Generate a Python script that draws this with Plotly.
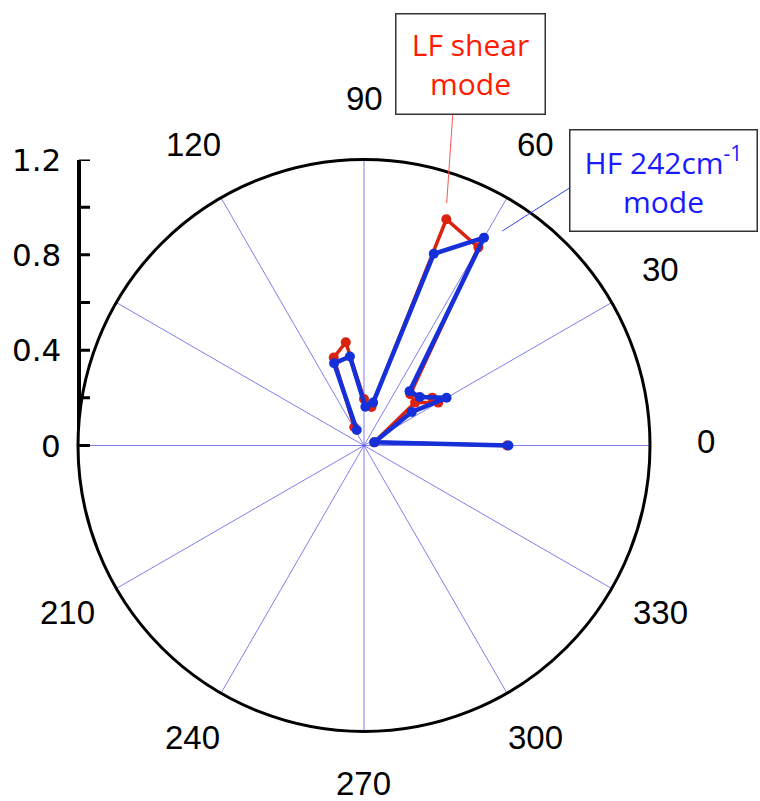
import math
import plotly.graph_objects as go

# ---- data ----
theta_lf = [0, 17, 40, 30, 35, 48, 60, 70, 79, 90, 100, 109, 118]
r_lf = [0.60, 0.045, 0.28, 0.36, 0.35, 0.29, 0.96, 1.01, 0.165, 0.195, 0.44, 0.39, 0.087]

theta_hf = [0, 17, 35, 30, 41, 50, 60, 70, 78, 88, 99, 110, 115]
r_hf = [0.606, 0.045, 0.245, 0.40, 0.31, 0.297, 1.007, 0.856, 0.184, 0.163, 0.378, 0.367, 0.072]

grid_angles = [0, 30, 60, 90, 120, 150, 180, 210, 240, 270, 300, 330]
label_angles = [0, 30, 60, 90, 120, 210, 240, 270, 300, 330]
label_texts = ["0", "30", "60", "90", "120", "210", "240", "270", "300", "330"]
radial_label_vals = [0, 0.4, 0.8, 1.2]
radial_label_texts = ["0", "0.4", "0.8", "1.2"]
radial_tick_vals = [0, 0.2, 0.4, 0.6, 0.8, 1.0, 1.2]

RED = "#d9230f"
BLUE = "#1530d8"

W, H = 760, 801
cx, cy, R = 364, 445.5, 286
AXIS_X = 79          # pixel x of the vertical radial scale
TICK_LEN = 11
LABEL_DIST = 342
LABEL_DY = -4.5      # visual baseline correction for the digit labels

fig = go.Figure()
fig.add_trace(go.Scatterpolar(
    r=r_lf, theta=theta_lf, mode="lines+markers",
    line=dict(color=RED, width=3.5), marker=dict(color=RED, size=10),
    name="LF shear mode"))
fig.add_trace(go.Scatterpolar(
    r=r_hf, theta=theta_hf, mode="lines+markers",
    line=dict(color=BLUE, width=4.5), marker=dict(color=BLUE, size=10),
    name="HF 242cm-1 mode"))
# invisible trace so the cartesian radial scale is drawn
fig.add_trace(go.Scatter(x=[0.5], y=[0.5], mode="markers", marker=dict(opacity=0),
                         hoverinfo="skip", showlegend=False))

bottom_ext = 0.055
ydom = [(H - cy - bottom_ext * R / 1.2) / H, (H - cy + R) / H]
fig.update_layout(
    width=W, height=H, margin=dict(l=0, r=0, t=0, b=0, autoexpand=False),
    paper_bgcolor="white", plot_bgcolor="rgba(0,0,0,0)", showlegend=False,
    polar=dict(
        domain=dict(x=[(cx - R) / W, (cx + R) / W],
                    y=[(H - cy - R) / H, (H - cy + R) / H]),
        bgcolor="white",
        radialaxis=dict(range=[0, 1.2], showgrid=False, showline=False,
                        showticklabels=False, ticks=""),
        angularaxis=dict(rotation=0, direction="counterclockwise",
                         tickmode="array", tickvals=grid_angles,
                         showticklabels=False, ticks="",
                         showline=True, linecolor="black", linewidth=3,
                         showgrid=True, gridcolor="rgba(95,95,230,0.8)", gridwidth=1),
    ),
    xaxis=dict(domain=[0.3, 0.4], range=[0, 1], visible=False),
    yaxis=dict(domain=ydom,
               range=[-bottom_ext, 1.2], anchor="free", position=AXIS_X / W, side="left",
               showline=True, linecolor="black", linewidth=4,
               ticks="", showticklabels=False,
               showgrid=False, zeroline=False),
)

# inward tick marks of the radial scale, placed on the y axis values
for v in radial_tick_vals:
    fig.add_shape(type="line", xref="paper", yref="y",
                  x0=AXIS_X / W, x1=(AXIS_X + TICK_LEN) / W, y0=v, y1=v,
                  line=dict(color="black", width=3))

# radial scale labels, placed on the y axis values
for v, txt in zip(radial_label_vals, radial_label_texts):
    fig.add_annotation(xref="paper", yref="y", x=(AXIS_X - 16) / W, y=v,
                       text=txt, showarrow=False, xanchor="right", yanchor="middle",
                       font=dict(family="DejaVu Sans", size=31, color="black"))

# angular tick labels around the circle
for ang, txt in zip(label_angles, label_texts):
    a = math.radians(ang)
    px = cx + LABEL_DIST * math.cos(a)
    py = cy - LABEL_DIST * math.sin(a) + LABEL_DY
    fig.add_annotation(xref="paper", yref="paper", x=px / W, y=1 - py / H,
                       text=txt, showarrow=False, xanchor="center", yanchor="middle",
                       font=dict(family="Liberation Sans", size=33, color="black"))

# label boxes
fig.add_annotation(xref="paper", yref="paper", x=470.3 / W, y=1 - 64.3 / H,
                   text="LF shear<br>mode", showarrow=False,
                   font=dict(family="Open Sans", size=30, color="#ff1a00"),
                   bordercolor="#333333", borderwidth=1.5, borderpad=1,
                   width=146, height=97, bgcolor="white",
                   xanchor="center", yanchor="middle", align="center")
fig.add_annotation(xref="paper", yref="paper", x=663.5 / W, y=1 - 180.8 / H,
                   text="HF 242cm<sup>-1</sup><br>mode", showarrow=False,
                   font=dict(family="Open Sans", size=30, color="#1a1aff"),
                   bordercolor="#333333", borderwidth=1.5, borderpad=1,
                   width=184, height=98, bgcolor="white",
                   xanchor="center", yanchor="middle", align="center")

# pointer lines
fig.add_shape(type="line", xref="paper", yref="paper",
              x0=452.7 / W, y0=1 - 115 / H, x1=446.7 / W, y1=1 - 203 / H,
              line=dict(color="#ff5555", width=1))
fig.add_shape(type="line", xref="paper", yref="paper",
              x0=569 / W, y0=1 - 188.3 / H, x1=502.3 / W, y1=1 - 231 / H,
              line=dict(color="#3344ee", width=1))

fig.write_html("out.html")
